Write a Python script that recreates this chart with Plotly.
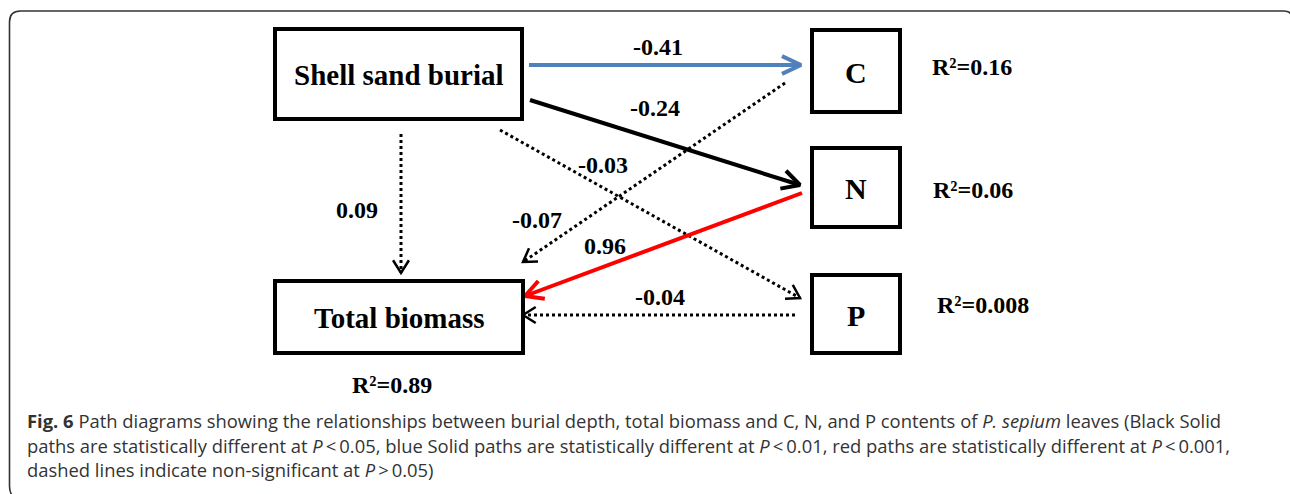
import math
import plotly.graph_objects as go

# ---------------- data ----------------
nodes = ["Shell sand burial", "C", "N", "P", "Total biomass"]
r2_values = ["", "0.16", "0.06", "0.008", "0.89"]

path_from = ["Shell sand burial", "Shell sand burial", "Shell sand burial",
             "Shell sand burial", "C", "N", "P"]
path_to = ["C", "N", "P", "Total biomass", "Total biomass", "Total biomass", "Total biomass"]
path_coef = ["-0.41", "-0.24", "-0.03", "0.09", "-0.07", "0.96", "-0.04"]
path_sig = ["p<0.01", "p<0.05", "ns", "ns", "ns", "p<0.001", "ns"]

caption_lines = [
    "<b>Fig. 6</b> Path diagrams showing the relationships between burial depth, total biomass and C, N, and P contents of <i>P. sepium</i> leaves (Black Solid",
    "paths are statistically different at <i>P</i>\u2009<\u20090.05, blue Solid paths are statistically different at <i>P</i>\u2009<\u20090.01, red paths are statistically different at <i>P</i>\u2009<\u20090.001,",
    "dashed lines indicate non-significant at <i>P</i>\u2009>\u20090.05)",
]

# ---------------- layout geometry (pixel space) ----------------
W, H = 1290, 494
node_box = {
    "Shell sand burial": (275, 29, 522, 119),
    "C": (812, 30, 900, 112),
    "N": (812, 148, 900, 227),
    "P": (812, 275, 900, 353),
    "Total biomass": (275, 281, 523, 353),
}
node_font = {"Shell sand burial": 29, "C": 30, "N": 30, "P": 30, "Total biomass": 29}
r2_pos = {"C": (930, 67, "left"), "N": (931, 190, "left"),
          "P": (935, 305, "left"), "Total biomass": (392, 385, "center")}
path_start = [(529, 65), (530, 100), (500, 130), (401, 134), (785, 83), (802, 193), (795, 315)]
path_end = [(801, 65), (800, 185), (800, 298), (401, 273), (523, 262), (525, 296), (523, 315)]
label_pos = [(658, 47), (655, 108), (603, 165), (357, 210), (537, 220), (605, 246), (660, 297)]

sig_style = {
    "p<0.01": dict(color="#4F81BD", width=4, dash="solid", arm=21, ang=25),
    "p<0.05": dict(color="#000000", width=4, dash="solid", arm=20, ang=28),
    "p<0.001": dict(color="#FF0000", width=4, dash="solid", arm=20, ang=28),
    "ns": dict(color="#000000", width=3, dash="3px,3px", arm=15, ang=32),
}

serif = "Liberation Serif, Times New Roman, serif"

fig = go.Figure()

# paths with chevron arrowheads
for i in range(len(path_coef)):
    st = sig_style[path_sig[i]]
    (x0, y0), (x1, y1) = path_start[i], path_end[i]
    fig.add_trace(go.Scatter(x=[x0, x1], y=[y0, y1], mode="lines",
                             line=dict(color=st["color"], width=st["width"], dash=st["dash"]),
                             hoverinfo="skip", showlegend=False))
    theta = math.atan2(y1 - y0, x1 - x0)
    a = math.radians(st["ang"])
    L = st["arm"]
    ax1 = x1 - L * math.cos(theta - a)
    ay1 = y1 - L * math.sin(theta - a)
    ax2 = x1 - L * math.cos(theta + a)
    ay2 = y1 - L * math.sin(theta + a)
    hw = st["width"] if st["dash"] == "solid" else 2.5
    fig.add_trace(go.Scatter(x=[ax1, x1, ax2], y=[ay1, y1, ay2], mode="lines",
                             line=dict(color=st["color"], width=hw),
                             hoverinfo="skip", showlegend=False))
    lx, ly = label_pos[i]
    fig.add_annotation(x=lx, y=ly, text="<b>%s</b>" % path_coef[i], showarrow=False,
                       font=dict(family=serif, size=24, color="#000"),
                       xanchor="center", yanchor="middle")

# node boxes
for name in nodes:
    x0, y0, x1, y1 = node_box[name]
    fig.add_shape(type="rect", x0=x0, y0=y0, x1=x1, y1=y1,
                  line=dict(color="#000", width=4), fillcolor="rgba(0,0,0,0)")
    fig.add_annotation(x=(x0 + x1) / 2, y=(y0 + y1) / 2 + 1, text="<b>%s</b>" % name,
                       showarrow=False, font=dict(family=serif, size=node_font[name], color="#000"),
                       xanchor="center", yanchor="middle")

# R^2 labels
for name, r2 in zip(nodes, r2_values):
    if not r2:
        continue
    x, y, anc = r2_pos[name]
    fig.add_annotation(x=x, y=y, text="<b>R\u00b2=%s</b>" % r2, showarrow=False,
                       font=dict(family=serif, size=24, color="#000"),
                       xanchor=anc, yanchor="middle")

# rounded frame (right edge lies just outside the visible page)
fig.add_shape(type="path",
              path="M 9.5,486 L 9.5,22 Q 9.5,11 20.5,11 L 1284,11 Q 1292,11 1292,19 L 1292,494",
              line=dict(color="#333", width=1.6))
fig.add_shape(type="path", path="M 9.5,486 Q 9.5,494 14,497",
              line=dict(color="#333", width=1.6))

# caption
cap_y = [420, 445, 469]
for line, y in zip(caption_lines, cap_y):
    fig.add_annotation(x=25, y=y, text=line, showarrow=False, xanchor="left", yanchor="middle",
                       font=dict(family="Open Sans, sans-serif", size=18.4, color="#333333"))

fig.update_layout(width=W, height=H, margin=dict(l=0, r=0, t=0, b=0),
                  paper_bgcolor="white", plot_bgcolor="white",
                  xaxis=dict(range=[0, W], visible=False, fixedrange=True),
                  yaxis=dict(range=[H, 0], visible=False, fixedrange=True),
                  showlegend=False)

fig.write_html("out.html", config={"displayModeBar": False},
               post_script="document.body.style.margin='0';document.body.style.overflow='hidden';")
